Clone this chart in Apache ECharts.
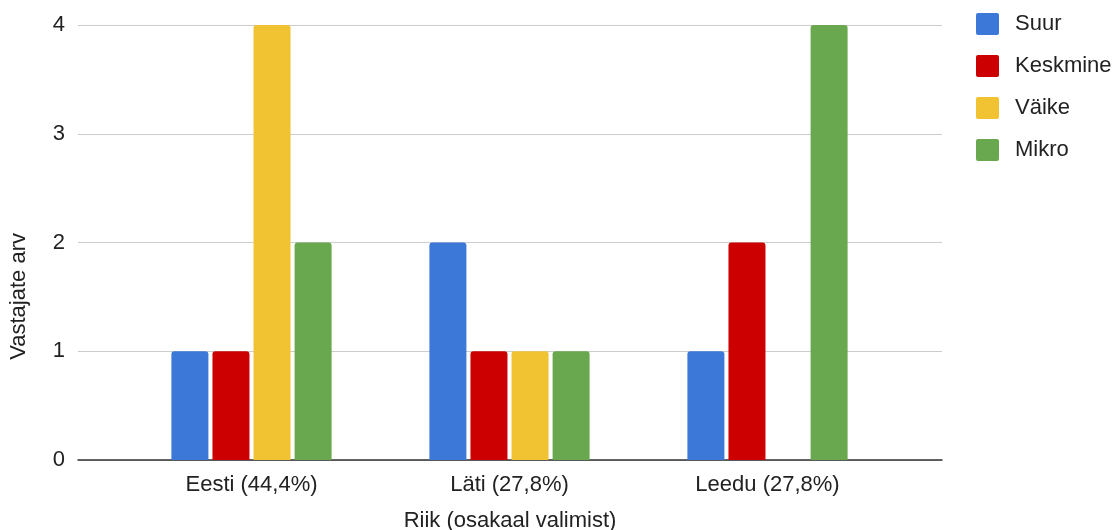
<!DOCTYPE html>
<html><head><meta charset="utf-8">
<script src="https://cdn.jsdelivr.net/npm/echarts@6/dist/echarts.min.js"></script>
<style>html,body{margin:0;padding:0;background:#fff}#c{width:1116px;height:530px}</style>
</head><body><div id="c"></div>
<script>
const categories = ['Eesti (44,4%)', 'Läti (27,8%)', 'Leedu (27,8%)'];
const seriesNames = ['Suur', 'Keskmine', 'Väike', 'Mikro'];
const suur = [1, 2, 1];
const keskmine = [1, 1, 2];
const vaike = [4, 1, 0];
const mikro = [2, 1, 4];
const colors = ['#3c78d8', '#cc0000', '#f1c232', '#6aa84f'];
const values = [suur, keskmine, vaike, mikro];
const yTicks = [0, 1, 2, 3, 4];

const font = 'Arial, "Liberation Sans", sans-serif';
const chart = echarts.init(document.getElementById('c'), null, {renderer: 'canvas'});
chart.setOption({
  animation: false,
  color: colors,
  textStyle: {fontFamily: font},
  grid: [
    {left: 78, right: 174, top: 25, bottom: 70, containLabel: false, outerBoundsMode: 'none'},
    {left: 122.5, right: 219.5, top: 25, bottom: 70, containLabel: false, outerBoundsMode: 'none'}
  ],
  legend: {
    orient: 'vertical', left: 971, top: 8,
    itemWidth: 23, itemHeight: 22, itemGap: 20,
    icon: 'path://M2,0H21Q23,0,23,2V20Q23,22,21,22H2Q0,22,0,20V2Q0,0,2,0Z',
    data: seriesNames,
    textStyle: {fontSize: 22, color: '#222', fontFamily: font, padding: [0, 0, 0, 11]}
  },
  graphic: [{
    type: 'text', left: 8, top: 233, rotation: Math.PI / 2,
    style: {text: 'Vastajate arv', fontSize: 22, fill: '#222', fontFamily: font}
  }],
  xAxis: [
    {gridIndex: 0, type: 'value', min: 0, max: 1, show: true,
     axisLine: {show: true, onZero: false, lineStyle: {color: '#333', width: 1.5}},
     axisTick: {show: false}, axisLabel: {show: false}, splitLine: {show: false},
     name: 'Riik (osakaal valimist)', nameLocation: 'middle', nameGap: 50,
     nameTextStyle: {fontSize: 22, color: '#222', fontFamily: font}},
    {gridIndex: 1, type: 'category', data: categories,
     axisLine: {show: false}, axisTick: {show: false},
     axisLabel: {fontSize: 22, color: '#222', margin: 14, fontFamily: font}}
  ],
  yAxis: [
    {gridIndex: 0, type: 'value', min: 0, max: 4, interval: 1,
     axisLine: {show: false}, axisTick: {show: false},
     axisLabel: {fontSize: 22, color: '#222', margin: 13, fontFamily: font,
       formatter: v => yTicks.includes(v) ? String(v) : ''},
     splitLine: {lineStyle: {color: '#cccccc', width: 1}}},
    {gridIndex: 1, type: 'value', min: 0, max: 4, interval: 1, show: false,
     splitLine: {show: false}}
  ],
  series: seriesNames.map((n, i) => ({
    name: n, type: 'bar', xAxisIndex: 1, yAxisIndex: 1,
    data: values[i], barWidth: 37, barGap: '11%',
    itemStyle: {color: colors[i], borderRadius: [3, 3, 0, 0]}
  }))
});
</script></body></html>
